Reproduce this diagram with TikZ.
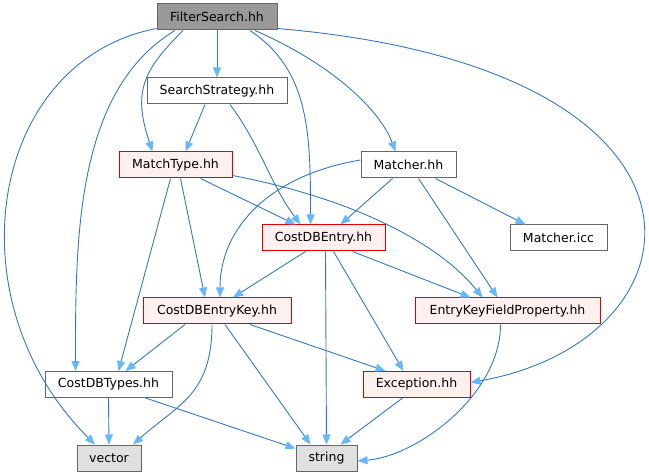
\documentclass[tikz,border=0pt]{standalone}
\usepackage{fontspec}
\setmainfont{DejaVu Sans}
\usetikzlibrary{arrows.meta}
\definecolor{cedge}{HTML}{3478C4}
\definecolor{ctip}{HTML}{63B8FF}
\definecolor{cgrey}{HTML}{666666}
\definecolor{cdark}{HTML}{999999}
\definecolor{clight}{HTML}{E0E0E0}
\definecolor{cred}{HTML}{E00000}
\definecolor{cpink}{HTML}{FFF0F0}
\tikzset{
  every picture/.style={font=\fontsize{12.5}{14}\selectfont},
  file/.style={draw=cgrey, fill=white, line width=1pt, minimum height=26pt, inner sep=0pt},
  rootfile/.style={file, fill=cdark},
  badfile/.style={file, draw=cred, fill=cpink},
  sysfile/.style={file, draw=cgrey, fill=clight},
  dep/.style={draw=cedge, line width=0.9pt, -{Triangle[length=10pt, width=8pt, color=ctip]}},
}

\begin{document}
\begin{tikzpicture}[x=1pt, y=-1pt]
  \useasboundingbox (0,0) rectangle (649,476);
  % files
  \node[rootfile, minimum width=120pt] (fs) at (217,17) {FilterSearch.hh};
  \node[file, minimum width=140pt] (ss) at (217,91) {SearchStrategy.hh};
  \node[badfile, minimum width=113pt] (mt) at (175.5,165) {MatchType.hh};
  \node[file, minimum width=95pt] (mc) at (408.5,165) {Matcher.hh};
  \node[badfile, minimum width=123pt] (ce) at (323.5,238) {CostDBEntry.hh};
  \node[file, minimum width=97pt] (mi) at (558.5,238) {Matcher.icc};
  \node[badfile, minimum width=148pt] (ck) at (217,311) {CostDBEntryKey.hh};
  \node[badfile, minimum width=185pt] (ek) at (507.5,311) {EntryKeyFieldProperty.hh};
  \node[file, minimum width=127pt] (ct) at (108.5,384.5) {CostDBTypes.hh};
  \node[badfile, minimum width=107pt] (ex) at (416.5,384.5) {Exception.hh};
  \node[sysfile, minimum width=64pt] (vec) at (109,458) {vector};
  \node[sysfile, minimum width=61pt] (st) at (326.5,458) {string};
  % FilterSearch.hh
  \draw[dep] (fs.south) -- (ss.north);
  \draw[dep] ([xshift=-34pt]fs.south) .. controls +(-40,40) and +(-20,-60) .. ([xshift=-23pt]mt.north);
  \draw[dep] ([xshift=-42pt]fs.south) .. controls +(-100,60) and +(0,-130) .. ([xshift=-33pt]ct.north);
  \draw[dep] ([yshift=2pt]fs.south west) .. controls +(-167,32) and +(-145,-145) .. ([xshift=-14pt]vec.north);
  \draw[dep] ([xshift=33pt]fs.south) .. controls +(60,40) and +(0,-90) .. ([xshift=-13pt]ce.north);
  \draw[dep] ([xshift=38pt]fs.south) .. controls +(80,35) and +(-15,-40) .. ([xshift=-13pt]mc.north);
  \draw[dep] ([yshift=2pt]fs.south east) .. controls +(470,40) and +(239,-42) .. ([yshift=2pt]ex.east);
  % SearchStrategy.hh
  \draw[dep] ([xshift=-12pt]ss.south) -- ([xshift=10pt]mt.north);
  \draw[dep] ([xshift=13pt]ss.south) .. controls +(30,40) and +(-30,-40) .. ([xshift=-23pt]ce.north);
  % MatchType.hh
  \draw[dep] ([xshift=25pt]mt.south) -- ([xshift=-28pt]ce.north);
  \draw[dep] ([yshift=3pt]mt.south east) .. controls +(130,25) and +(-40,-50) .. ([xshift=-25pt]ek.north);
  \draw[dep] ([xshift=5pt]mt.south) -- ([xshift=-12pt]ck.north);
  \draw[dep] ([xshift=-5pt]mt.south) -- ([xshift=10pt]ct.north);
  % Matcher.hh
  \draw[dep] ([xshift=-16pt]mc.south) -- ([xshift=17pt]ce.north);
  \draw[dep] ([yshift=5pt]mc.west) .. controls +(-90,15) and +(0,-70) .. ([xshift=3pt]ck.north);
  \draw[dep] ([xshift=10pt]mc.south) -- ([xshift=-10pt]ek.north);
  \draw[dep] ([xshift=27pt]mc.south) -- ([xshift=-33pt]mi.north);
  % CostDBEntry.hh
  \draw[dep] ([xshift=2pt]ce.south) -- (st.north);
  \draw[dep] ([xshift=-18pt]ce.south) -- ([xshift=16pt]ck.north);
  \draw[dep] ([xshift=29pt]ce.south) -- ([xshift=-37pt]ek.north);
  \draw[dep] ([xshift=10pt]ce.south) -- ([xshift=-13pt]ex.north);
  % CostDBEntryKey.hh
  \draw[dep] ([xshift=-32pt]ck.south) -- ([xshift=17pt]ct.north);
  \draw[dep] ([xshift=-5pt]ck.south) .. controls +(0,70) and +(45,-40) .. ([xshift=24pt]vec.north);
  \draw[dep] ([xshift=8pt]ck.south) -- ([xshift=-16pt]st.north);
  \draw[dep] ([xshift=33pt]ck.south) -- ([xshift=-31pt]ex.north);
  % the rest
  \draw[dep] (ct.south) -- (vec.north);
  \draw[dep] ([xshift=37pt]ct.south) -- ([yshift=-4pt]st.north west);
  \draw[dep] ([xshift=-14pt]ex.south) -- ([xshift=14pt]st.north);
  \draw[dep] ([xshift=-7pt]ek.south) .. controls +(0,70) and +(60,-5) .. ([yshift=-3pt]st.east);
\end{tikzpicture}
\end{document}
